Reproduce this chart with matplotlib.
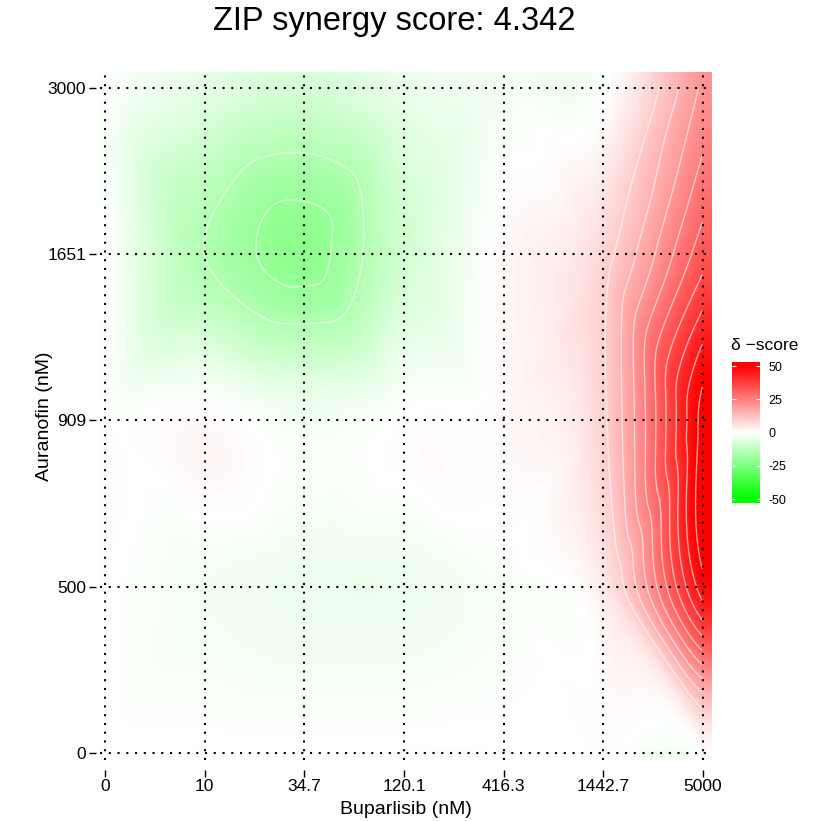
import numpy as np
import matplotlib
matplotlib.use("Agg")
import matplotlib.pyplot as plt
import matplotlib.tri as mtri
from matplotlib.colors import LinearSegmentedColormap, Normalize

# dose levels
buparlisib = ["0", "10", "34.7", "120.1", "416.3", "1442.7", "5000"]
auranofin = ["0", "500", "909", "1651", "3000"]

# delta scores per auranofin dose (cols follow buparlisib)
delta_0 = [0, 0, 0, 0, 0, 0, 0]
delta_500 = [0, -2, -3, -3, -1, 4, 48]
delta_909 = [0, 1, -2, 0, 1, 9, 52]
delta_1651 = [0, -15, -22, -9, 1, 8, 33]
delta_3000 = [0, -5, -8, -4, -2, -1, 21]
zip_score = 4.342

# contour levels drawn on the surface
contour_levels = [-20, -15, 10, 15, 20, 25, 30, 35, 40, 45, 50]

plt.rcParams['font.family'] = ['Liberation Sans', 'DejaVu Sans']
plt.rcParams['axes.unicode_minus'] = False

delta = np.array([delta_0, delta_500, delta_909, delta_1651, delta_3000], dtype=float)
nx, ny = len(buparlisib), len(auranofin)

fig = plt.figure(figsize=(8.38, 8.21), dpi=100)
ax = fig.add_axes([0.1193, 0.0743, 0.7303, 0.838])
xlim = (-0.05, 6.09)
ylim = (-0.042, 4.096)

# smooth surface through the dose grid
gx, gy = np.meshgrid(np.arange(nx), np.arange(ny))
tri = mtri.Triangulation(gx.ravel().astype(float), gy.ravel().astype(float))
interp = mtri.CubicTriInterpolator(tri, delta.ravel(), kind='geom')
fx = np.linspace(xlim[0], xlim[1], 500)
fy = np.linspace(ylim[0], ylim[1], 500)
FX, FY = np.meshgrid(fx, fy)
Z = interp(np.clip(FX, 0, nx - 1), np.clip(FY, 0, ny - 1))

cmap = LinearSegmentedColormap.from_list("gwr", ["#00FF00", "#FFFFFF", "#FF0000"])
norm = Normalize(-50, 50)
ax.imshow(Z, origin='lower', extent=(xlim[0], xlim[1], ylim[0], ylim[1]),
          cmap=cmap, norm=norm, aspect='auto', interpolation='bilinear', zorder=0)

# contour lines only inside the dose grid
inside = (FX >= 0) & (FX <= nx - 1) & (FY >= 0) & (FY <= ny - 1)
Zc = np.ma.masked_where(~inside, Z)
ax.contour(FX, FY, Zc, levels=contour_levels, colors='white', linewidths=1.0, alpha=0.6,
           negative_linestyles='solid', zorder=1)

ax.set_xlim(xlim)
ax.set_ylim(ylim)
ax.set_xticks(range(nx))
ax.set_xticklabels(buparlisib)
ax.set_yticks(range(ny))
ax.set_yticklabels(auranofin)
for s in ax.spines.values():
    s.set_visible(False)
ax.spines['bottom'].set_position(('outward', 7))
ax.spines['left'].set_position(('outward', 3))
ax.tick_params(direction='out', length=5, width=1, labelsize=12.5, pad=2)
ax.grid(True, color='black', linestyle=(0, (1, 3.2)), linewidth=1.5)
ax.set_axisbelow(False)
ax.set_xlabel("Buparlisib (nM)", fontsize=14, labelpad=5)
ax.set_ylabel("Auranofin (nM)", fontsize=14, labelpad=-4)

fig.suptitle("ZIP synergy score: %.3f" % zip_score, fontsize=23.5, x=0.471, y=0.993)

# legend bar
cax = fig.add_axes([0.8735, 0.3873, 0.0334, 0.1717])
grad = np.linspace(-53, 53, 256).reshape(-1, 1)
cax.imshow(grad, origin='lower', extent=(0, 1, -53, 53), cmap=cmap, norm=norm, aspect='auto')
cax.set_xlim(0, 1)
cax.set_ylim(-53, 53)
cax.set_xticks([])
cax.set_yticks([50, 25, 0, -25, -50])
cax.yaxis.tick_right()
cax.tick_params(axis='y', direction='in', length=3, color='white', left=True, right=True,
                labelleft=False, labelright=True, labelsize=9, pad=6)
for s in cax.spines.values():
    s.set_visible(False)
fig.text(0.872, 0.579, "δ \u2212score", fontsize=12.5, ha='left', va='center')

fig.savefig("out.png", dpi=100)
